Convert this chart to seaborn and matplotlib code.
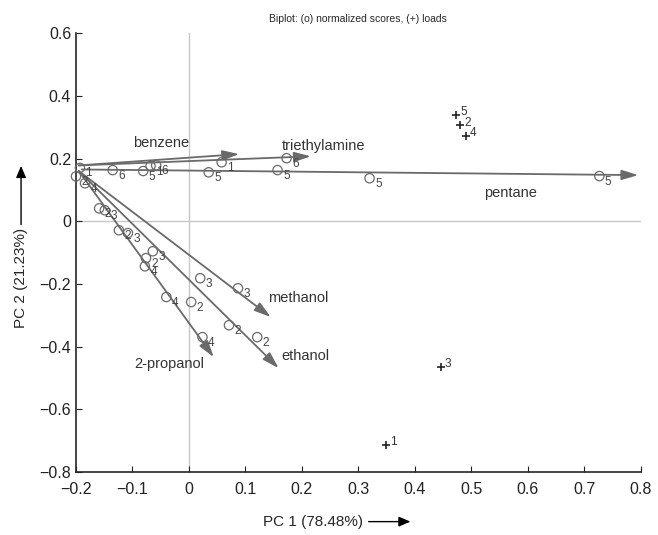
import pandas as pd
import matplotlib
matplotlib.use("Agg")
import matplotlib.pyplot as plt
import seaborn as sns

# Normalized scores (circles)
score_x = [-0.193, -0.200, -0.184, -0.135, -0.081, -0.068, -0.058, 0.035, 0.058,
           0.157, 0.173, 0.320, 0.727,
           -0.159, -0.149, -0.124, -0.108, -0.064, -0.076, -0.078,
           0.020, 0.087, -0.040, 0.004, 0.071, 0.121, 0.024]
score_y = [0.170, 0.143, 0.121, 0.163, 0.160, 0.176, 0.178, 0.156, 0.188,
           0.163, 0.201, 0.137, 0.144,
           0.041, 0.035, -0.029, -0.038, -0.096, -0.118, -0.144,
           -0.182, -0.214, -0.242, -0.258, -0.332, -0.370, -0.370]
score_lab = ["1", "2", "4", "6", "5", "1", "6", "5", "1",
             "5", "6", "5", "5",
             "2", "3", "2", "3", "3", "2", "4",
             "3", "3", "4", "2", "2", "2", "4"]

# Loads (+)
load_x = [0.473, 0.481, 0.490, 0.446, 0.349]
load_y = [0.338, 0.306, 0.271, -0.466, -0.715]
load_lab = ["5", "2", "4", "3", "1"]

# Solvent vectors
solvents = ["benzene", "triethylamine", "pentane", "methanol", "ethanol", "2-propanol"]
vec_x0 = [-0.195, -0.195, -0.190, -0.195, -0.195, -0.195]
vec_y0 = [0.178, 0.178, 0.165, 0.160, 0.160, 0.160]
vec_x1 = [0.089, 0.216, 0.796, 0.145, 0.159, 0.044]
vec_y1 = [0.214, 0.207, 0.147, -0.306, -0.469, -0.434]
name_x = [-0.050, 0.239, 0.570, 0.193, 0.207, -0.035]
name_y = [0.249, 0.239, 0.089, -0.246, -0.430, -0.456]

sns.set_style("ticks")
plt.rcParams["font.family"] = ["Liberation Sans", "DejaVu Sans"]

fig = plt.figure(figsize=(6.58, 5.35), dpi=100)
ax = fig.add_axes([0.1155, 0.118, 0.858, 0.82])

ax.axvline(0, color="#c8c8c8", lw=1, zorder=0)
ax.axhline(0, color="#c8c8c8", lw=1, zorder=0)

grey = "#6a6a6a"
for x0, y0, x1, y1 in zip(vec_x0, vec_y0, vec_x1, vec_y1):
    ax.annotate("", xy=(x1, y1), xytext=(x0, y0),
                arrowprops=dict(arrowstyle="-|>,head_length=1.0,head_width=0.3",
                                color=grey, lw=1.3, shrinkA=0, shrinkB=0),
                annotation_clip=False)
for n, x, y in zip(solvents, name_x, name_y):
    ax.text(x, y, n, fontsize=10.5, color="#333333", ha="center", va="center")

scores = pd.DataFrame({"x": score_x, "y": score_y, "lab": score_lab})
sns.scatterplot(data=scores, x="x", y="y", ax=ax, marker="o", s=45,
                facecolor="none", edgecolor=grey, linewidth=0.9, clip_on=False, zorder=3)
for x, y, t in zip(score_x, score_y, score_lab):
    ax.annotate(t, (x, y), xytext=(4, -4), textcoords="offset points",
                fontsize=8.5, color="#444444", va="center")

loads = pd.DataFrame({"x": load_x, "y": load_y})
sns.scatterplot(data=loads, x="x", y="y", ax=ax, marker="+", s=40,
                color="#222222", linewidth=1.2, zorder=3)
for x, y, t in zip(load_x, load_y, load_lab):
    ax.annotate(t, (x, y), xytext=(3, 2), textcoords="offset points",
                fontsize=8.5, color="#333333", va="center")

ax.set_xlim(-0.2, 0.8)
ax.set_ylim(-0.8, 0.6)
ax.set_xticks([-0.2, -0.1, 0, 0.1, 0.2, 0.3, 0.4, 0.5, 0.6, 0.7, 0.8])
ax.set_xticklabels(["\u22120.2", "\u22120.1", "0", "0.1", "0.2", "0.3", "0.4",
                    "0.5", "0.6", "0.7", "0.8"])
ax.set_yticks([-0.8, -0.6, -0.4, -0.2, 0, 0.2, 0.4, 0.6])
ax.set_yticklabels(["\u22120.8", "\u22120.6", "\u22120.4", "\u22120.2", "0",
                    "0.2", "0.4", "0.6"])
ax.tick_params(direction="in", length=4, labelsize=11.5, colors="#222222")
ax.tick_params(axis="x", pad=7)
sns.despine(ax=ax)
ax.spines["left"].set_linewidth(1.2)
ax.spines["bottom"].set_linewidth(1.2)
ax.set_xlabel("")
ax.set_ylabel("")

ax.set_title("Biplot: (o) normalized scores, (+) loads", fontsize=7.5, pad=8)

# axis labels with arrows
fig.text(0.475, 0.025, "PC 1 (78.48%)", fontsize=11, ha="center", va="center")
ax.annotate("", xy=(0.628, 0.025), xytext=(0.556, 0.025), xycoords="figure fraction",
            arrowprops=dict(arrowstyle="-|>,head_length=0.7,head_width=0.3",
                            color="black", lw=1))
fig.text(0.032, 0.48, "PC 2 (21.23%)", fontsize=11, ha="center", va="center",
         rotation=90)
ax.annotate("", xy=(0.032, 0.695), xytext=(0.032, 0.575), xycoords="figure fraction",
            arrowprops=dict(arrowstyle="-|>,head_length=0.7,head_width=0.3",
                            color="black", lw=1))

fig.savefig("out.png", dpi=100)
